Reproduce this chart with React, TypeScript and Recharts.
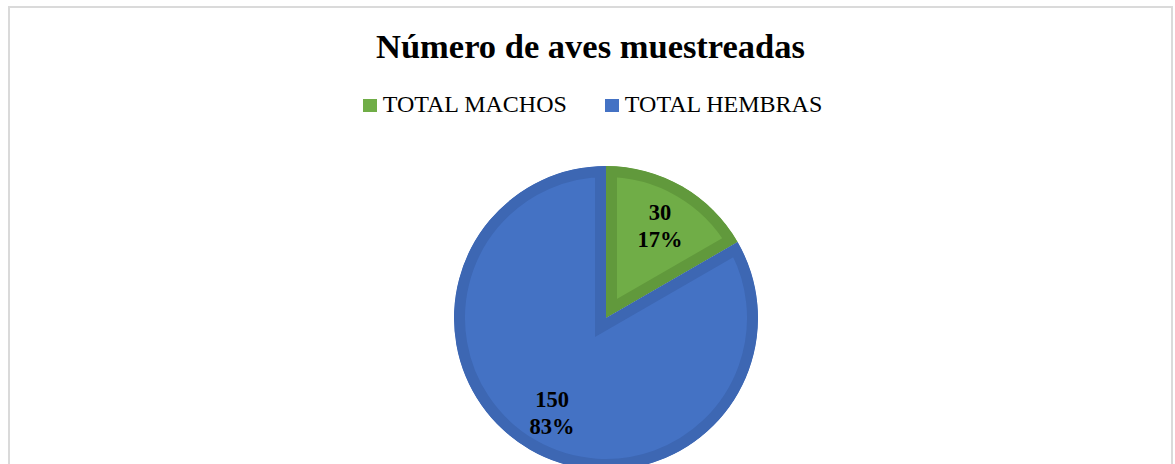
import React from 'react';
import { PieChart, Pie, Cell, Legend, Sector } from 'recharts';

const categories = ['TOTAL MACHOS', 'TOTAL HEMBRAS'];
const values = [30, 150];
const fillColors = ['#70AD47', '#4472C4'];
const borderColors = ['#61993C', '#3D67B3'];

const data = categories.map((name, i) => ({ name, value: values[i] }));

const FONT = "'Liberation Serif', 'Times New Roman', serif";
const RADIAN = Math.PI / 180;

const InsetSector = (props: any) => {
  const { cx, cy, innerRadius, outerRadius, startAngle, endAngle, fill, stroke, name } = props;
  const id = `clip-${String(name).replace(/\s+/g, '-')}`;
  return (
    <g>
      <defs>
        <clipPath id={id}>
          <Sector cx={cx} cy={cy} innerRadius={innerRadius} outerRadius={outerRadius} startAngle={startAngle} endAngle={endAngle} />
        </clipPath>
      </defs>
      <Sector
        cx={cx}
        cy={cy}
        innerRadius={innerRadius}
        outerRadius={outerRadius}
        startAngle={startAngle}
        endAngle={endAngle}
        fill={fill}
        stroke={stroke}
        strokeWidth={22}
        clipPath={`url(#${id})`}
      />
    </g>
  );
};

const renderLabel = (p: any) => {
  const { cx, cy, midAngle, outerRadius, value, percent } = p;
  const r = outerRadius * 0.71;
  const x = cx + r * Math.cos(-midAngle * RADIAN);
  const y = cy + r * Math.sin(-midAngle * RADIAN);
  return (
    <text x={x} y={y} textAnchor="middle" fontFamily={FONT} fontWeight="bold" fontSize={22.5} fill="#000">
      <tspan x={x} y={y - 4.5}>{value}</tspan>
      <tspan x={x} dy={27}>{`${Math.round(percent * 100)}%`}</tspan>
    </text>
  );
};

const renderLegend = () => (
  <div style={{ display: 'flex', justifyContent: 'center', gap: 38, fontFamily: FONT, fontSize: 24, lineHeight: '26px', color: '#000', paddingLeft: 4 }}>
    {categories.map((c, i) => (
      <span key={c} style={{ whiteSpace: 'nowrap' }}>
        <span style={{ display: 'inline-block', width: 14, height: 13, background: fillColors[i], marginRight: 6, verticalAlign: 'baseline' }} />
        {c}
      </span>
    ))}
  </div>
);

export default function App() {
  return (
    <div style={{ position: 'absolute', left: 8, top: 6, width: 1165, height: 458, overflow: 'hidden' }}>
      <div style={{ position: 'relative', boxSizing: 'border-box', width: 1165, height: 480, borderTop: '2px solid #DADADA', borderLeft: '2px solid #DADADA', borderRight: '2px solid #DADADA', background: '#fff' }}>
        <div style={{ position: 'absolute', top: 17.5, left: 0, width: 1161, textAlign: 'center', fontFamily: FONT, fontWeight: 'bold', fontSize: 34.5, lineHeight: '40px', color: '#000', zIndex: 2 }}>
          Número de aves muestreadas
        </div>
        <PieChart width={1161} height={470} margin={{ top: 0, right: 0, bottom: 0, left: 0 }}>
          <Legend content={renderLegend} wrapperStyle={{ top: 83, left: 0, width: 1161 }} />
          <Pie
            data={data}
            dataKey="value"
            nameKey="name"
            cx={596}
            cy={310}
            outerRadius={152}
            startAngle={90}
            endAngle={-270}
            label={renderLabel}
            labelLine={false}
            shape={InsetSector}
            isAnimationActive={false}
          >
            {data.map((d, i) => (
              <Cell key={d.name} fill={fillColors[i]} stroke={borderColors[i]} />
            ))}
          </Pie>
        </PieChart>
      </div>
    </div>
  );
}
